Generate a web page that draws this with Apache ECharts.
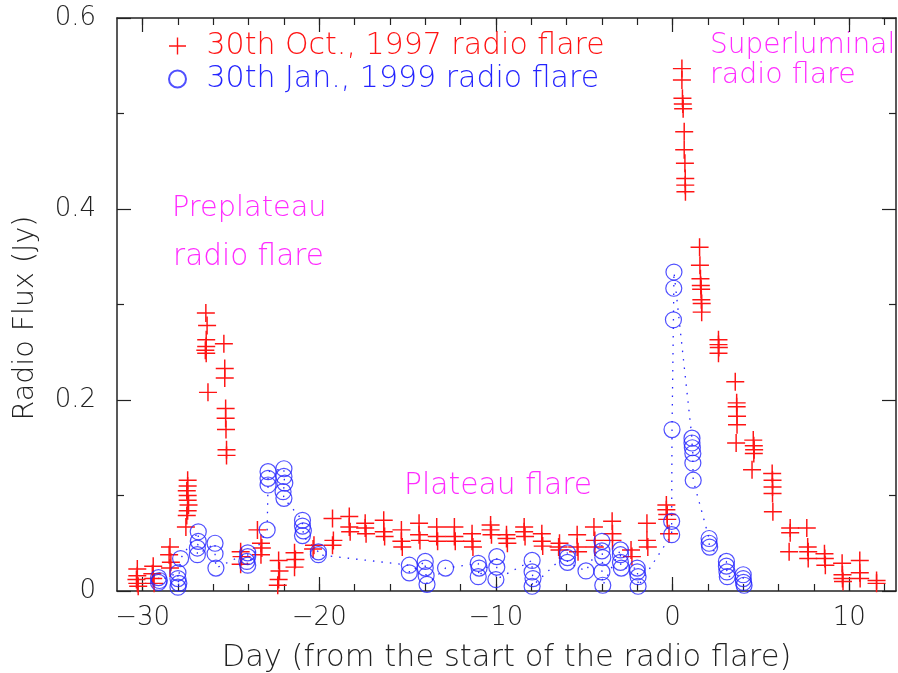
<!DOCTYPE html>
<html><head><meta charset="utf-8">
<script src="https://cdn.jsdelivr.net/npm/echarts@6/dist/echarts.min.js"></script>
<style>html,body{margin:0;padding:0;background:#fff}#c{width:898px;height:673px}</style>
</head><body><div id="c"></div>
<script>
// ---- data ----
const xMajorTicks = [-30, -20, -10, 0, 10];
const xMinorTicks = [-30, -28, -26, -24, -22, -20, -18, -16, -14, -12, -10, -8, -6, -4, -2, 0, 2, 4, 6, 8, 10, 12];
const yTickLabels = ['0', '0.2', '0.4', '0.6'];

const octName = '30th Oct., 1997 radio flare';
const janName = '30th Jan., 1999 radio flare';

const octDay = [
 -30.3,-30.3,-30.35,-30.3,-30.25,
 -29.4,-29.45,-29.4,-29.35,
 -28.45,-28.5,-28.4,-28.45,
 -27.55,
 -27.45,-27.45,-27.5,-27.45,-27.45,-27.4,-27.45,-27.5,
 -26.42,-26.35,-26.4,-26.4,-26.45,-26.4,-26.3,
 -25.4,-25.35,-25.35,-25.3,-25.3,-25.28,-25.25,-25.25,
 -24.45,-24.4,-24.45,
 -23.5,-23.3,-23.25,-23.3,
 -22.3,-22.25,-22.3,-22.35,
 -21.4,-21.35,-21.4,
 -20.3,-20.35,
 -19.25,-19.2,-19.25,
 -18.3,-18.3,-18.25,
 -17.4,-17.4,-17.35,
 -16.35,-16.35,-16.3,
 -15.35,-15.35,-15.3,
 -14.35,-14.35,-14.3,
 -13.35,-13.35,-13.3,
 -12.35,-12.35,-12.3,
 -11.35,-11.35,-11.3,
 -10.3,-10.3,-10.25,
 -9.4,-9.4,-9.35,
 -8.4,-8.4,-8.35,
 -7.4,-7.4,-7.35,
 -6.4,-6.45,-6.4,
 -5.4,-5.4,-5.35,
 -4.45,-4.4,-4.4,
 -3.42,-3.4,-3.4,
 -2.35,-2.3,
 -1.45,-1.45,-1.4,
 -0.35,-0.35,-0.3,-0.3,-0.2,
 0.53,0.53,0.56,0.58,0.6,0.66,0.66,0.7,0.72,0.72,0.73,
 1.53,1.55,1.58,1.6,1.62,1.63,1.65,1.65,
 2.6,2.6,2.62,2.6,
 3.55,3.63,3.63,3.65,3.65,3.6,
 4.57,4.6,4.62,4.6,4.5,
 5.64,5.66,5.66,5.66,5.68,
 6.66,6.66,6.6,
 7.6,7.65,7.68,7.68,
 8.6,8.62,8.65,
 9.6,9.62,9.62,9.65,
 10.6,10.6,10.62,
 11.55,11.55
];
const octFlux = [
 0.023,0.016,0.012,0.008,0.005,
 0.026,0.018,0.013,0.008,
 0.046,0.038,0.030,0.024,
 0.067,
 0.116,0.110,0.105,0.100,0.095,0.090,0.084,0.079,
 0.291,0.278,0.263,0.256,0.252,0.249,0.208,
 0.259,0.233,0.223,0.191,0.181,0.169,0.148,0.142,
 0.041,0.036,0.028,
 0.064,0.050,0.045,0.038,
 0.032,0.021,0.012,0.006,
 0.040,0.033,0.025,
 0.048,0.044,
 0.076,0.053,0.048,
 0.078,0.067,0.062,
 0.071,0.066,0.060,
 0.074,0.062,0.057,
 0.064,0.052,0.046,
 0.071,0.059,0.053,
 0.067,0.057,0.052,
 0.067,0.057,0.052,
 0.060,0.052,0.046,
 0.069,0.064,0.059,
 0.059,0.055,0.050,
 0.067,0.062,0.057,
 0.060,0.052,0.047,
 0.050,0.046,0.043,
 0.059,0.046,0.041,
 0.067,0.053,0.046,
 0.073,0.060,0.053,
 0.043,0.036,
 0.071,0.053,0.046,
 0.090,0.085,0.080,0.075,0.060,
 0.547,0.535,0.516,0.510,0.505,0.481,0.462,0.448,0.432,0.425,0.418,
 0.360,0.341,0.327,0.320,0.316,0.305,0.301,0.292,
 0.263,0.258,0.255,0.249,
 0.219,0.197,0.193,0.183,0.174,0.155,
 0.158,0.152,0.148,0.144,0.127,
 0.123,0.116,0.109,0.102,0.083,
 0.066,0.061,0.041,
 0.066,0.046,0.041,0.034,
 0.039,0.034,0.027,
 0.029,0.017,0.013,0.010,
 0.032,0.019,0.013,
 0.011,0.008
];

const janDay = [
 -29.1,-29.05,-29.1,
 -28.0,-28.0,-27.95,-28.0,-27.85,
 -26.85,-26.85,-26.9,-26.9,
 -25.9,-25.9,-25.85,
 -24.05,-24.05,-24.1,-24.05,
 -22.95,-22.9,-22.9,-22.9,
 -22.0,-22.0,-21.95,-22.05,-22.0,
 -20.95,-20.95,-20.9,-20.95,
 -20.05,-20.05,
 -14.9,-14.9,
 -14.0,-14.0,-13.95,-13.9,
 -12.85,
 -11.0,-10.95,-11.0,
 -9.95,-9.95,-10.0,
 -7.95,-7.95,-7.9,-7.95,
 -5.95,-5.95,-5.95,
 -4.9,
 -4.0,-4.0,-3.95,-4.0,-3.95,
 -2.95,-2.95,-2.95,-2.9,
 -2.0,-2.0,-1.95,-1.95,
 -0.05,-0.05,-0.03,0.05,0.07,0.08,
 1.1,1.1,1.12,1.15,1.15,1.17,
 2.07,2.07,2.1,
 3.05,3.05,3.08,3.1,
 4.0,4.0,4.02,4.05
];
const janFlux = [
 0.014,0.011,0.009,
 0.019,0.013,0.008,0.004,0.034,
 0.062,0.052,0.045,0.038,
 0.050,0.039,0.024,
 0.040,0.036,0.031,0.027,
 0.064,0.111,0.118,0.125,
 0.128,0.120,0.113,0.104,0.097,
 0.074,0.068,0.063,0.058,
 0.041,0.038,
 0.027,0.019,
 0.031,0.024,0.016,0.007,
 0.024,
 0.029,0.024,0.015,
 0.036,0.025,0.012,
 0.032,0.020,0.013,0.005,
 0.040,0.035,0.030,
 0.021,
 0.052,0.042,0.035,0.020,0.006,
 0.043,0.038,0.030,0.024,
 0.024,0.020,0.015,0.005,
 0.059,0.073,0.169,0.284,0.317,0.334,
 0.160,0.155,0.150,0.144,0.134,0.116,
 0.055,0.050,0.046,
 0.031,0.026,0.020,0.015,
 0.017,0.013,0.009,0.006
];

// ---- styles ----
const FONT = 'DejaVu Sans';
const FW = 200;
const RED = '#ff1414', BLUE = '#2424ff', MAG = '#ff2cff', INK = '#222';
const PLUS = 'path://M0,7.35H7.35V0H8.65V7.35H16V8.65H8.65V16H7.35V8.65H0Z';

const octData = octDay.map((d, i) => [d, octFlux[i]]);
const janData = janDay.map((d, i) => [d, janFlux[i]]);

const XMIN = -31.45, XMAX = 12.65;
const fmtX = v => (v < 0 ? '\u2212' + Math.abs(v) : String(v));

function xAx(pos, ticks, len, labels, line) {
  return {
    type: 'value', min: XMIN, max: XMAX, position: pos, gridIndex: 0,
    axisLine: { show: line, onZero: false, lineStyle: { color: INK, width: 1.5 } },
    axisTick: { show: true, inside: true, length: len, customValues: ticks, lineStyle: { color: INK, width: 1.2 } },
    axisLabel: labels ? { show: true, customValues: xMajorTicks, formatter: fmtX, margin: 14,
      fontFamily: FONT, fontWeight: FW, fontSize: 26, color: INK } : { show: false },
    splitLine: { show: false }
  };
}
function yAx(pos, labels) {
  return {
    type: 'value', min: 0, max: 0.6, interval: 0.2, position: pos, gridIndex: 0,
    axisLine: { show: true, onZero: false, lineStyle: { color: INK, width: 1.5 } },
    axisTick: { show: true, inside: true, length: 14, lineStyle: { color: INK, width: 1.2 } },
    minorTick: { show: true, splitNumber: 2, length: 7, lineStyle: { color: INK, width: 1.2 } },
    axisLabel: labels ? { show: true, margin: 21, fontFamily: FONT, fontWeight: FW, fontSize: 26, color: INK,
      formatter: v => yTickLabels[Math.round(v / 0.2)] } : { show: false },
    splitLine: { show: false }, minorSplitLine: { show: false }
  };
}

const xA0 = xAx('bottom', xMajorTicks, 14, true, true);
xA0.name = 'Day (from the start of the radio flare)';
xA0.nameLocation = 'middle';
xA0.nameGap = 52;
xA0.nameTextStyle = { fontFamily: FONT, fontWeight: FW, fontSize: 30.5, color: INK };

const chart = echarts.init(document.getElementById('c'), null, { renderer: 'canvas' });
chart.setOption({
  animation: false,
  backgroundColor: '#fff',
  grid: { left: 117, right: 2, top: 18, bottom: 82, containLabel: false, outerBoundsMode: 'none' },
  xAxis: [
    xA0,
    xAx('bottom', xMinorTicks, 7, false, false),
    xAx('top', xMajorTicks, 14, false, true),
    xAx('top', xMinorTicks, 7, false, false)
  ],
  yAxis: [yAx('left', true), yAx('right', false)],
  legend: {
    orient: 'vertical', left: 168, top: 31, padding: 0, itemGap: 3,
    itemWidth: 18, itemHeight: 17, selectedMode: false,
    textStyle: { fontFamily: FONT, fontWeight: FW, fontSize: 30, lineHeight: 27, padding: [0, 0, 0, 15] },
    data: [
      { name: octName, textStyle: { color: RED } },
      { name: janName, textStyle: { color: BLUE } }
    ]
  },
  graphic: [
    { type: 'text', x: 26, y: 318, rotation: Math.PI / 2,
      style: { text: 'Radio Flux (Jy)', fontFamily: FONT, fontWeight: FW, fontSize: 28.5, fill: INK, align: 'center', verticalAlign: 'middle' } },
    { type: 'text', x: 710, y: 46, style: { text: 'Superluminal', fontFamily: FONT, fontWeight: FW, fontSize: 28, fill: MAG, verticalAlign: 'middle' } },
    { type: 'text', x: 710, y: 76, style: { text: 'radio flare', fontFamily: FONT, fontWeight: FW, fontSize: 28.5, fill: MAG, verticalAlign: 'middle' } },
    { type: 'text', x: 172, y: 209, style: { text: 'Preplateau', fontFamily: FONT, fontWeight: FW, fontSize: 28.8, fill: MAG, verticalAlign: 'middle' } },
    { type: 'text', x: 173, y: 257, style: { text: 'radio flare', fontFamily: FONT, fontWeight: FW, fontSize: 29.5, fill: MAG, verticalAlign: 'middle' } },
    { type: 'text', x: 404, y: 486, style: { text: 'Plateau flare', fontFamily: FONT, fontWeight: FW, fontSize: 29.8, fill: MAG, verticalAlign: 'middle' } }
  ],
  series: [
    { type: 'line', name: 'janLine', xAxisIndex: 0, yAxisIndex: 0, data: janData,
      showSymbol: false, silent: true, z: 1,
      lineStyle: { color: BLUE, width: 1.3, type: [1.5, 7] } },
    { type: 'scatter', name: octName, xAxisIndex: 0, yAxisIndex: 0, data: octData,
      symbol: PLUS, symbolSize: [18, 18], z: 2,
      itemStyle: { color: RED, opacity: 1 } },
    { type: 'scatter', name: janName, xAxisIndex: 0, yAxisIndex: 0, data: janData,
      symbol: 'circle', symbolSize: 16, z: 3,
      itemStyle: { color: 'rgba(0,0,0,0)', borderColor: BLUE, borderWidth: 1.2 } }
  ]
});
</script></body></html>
